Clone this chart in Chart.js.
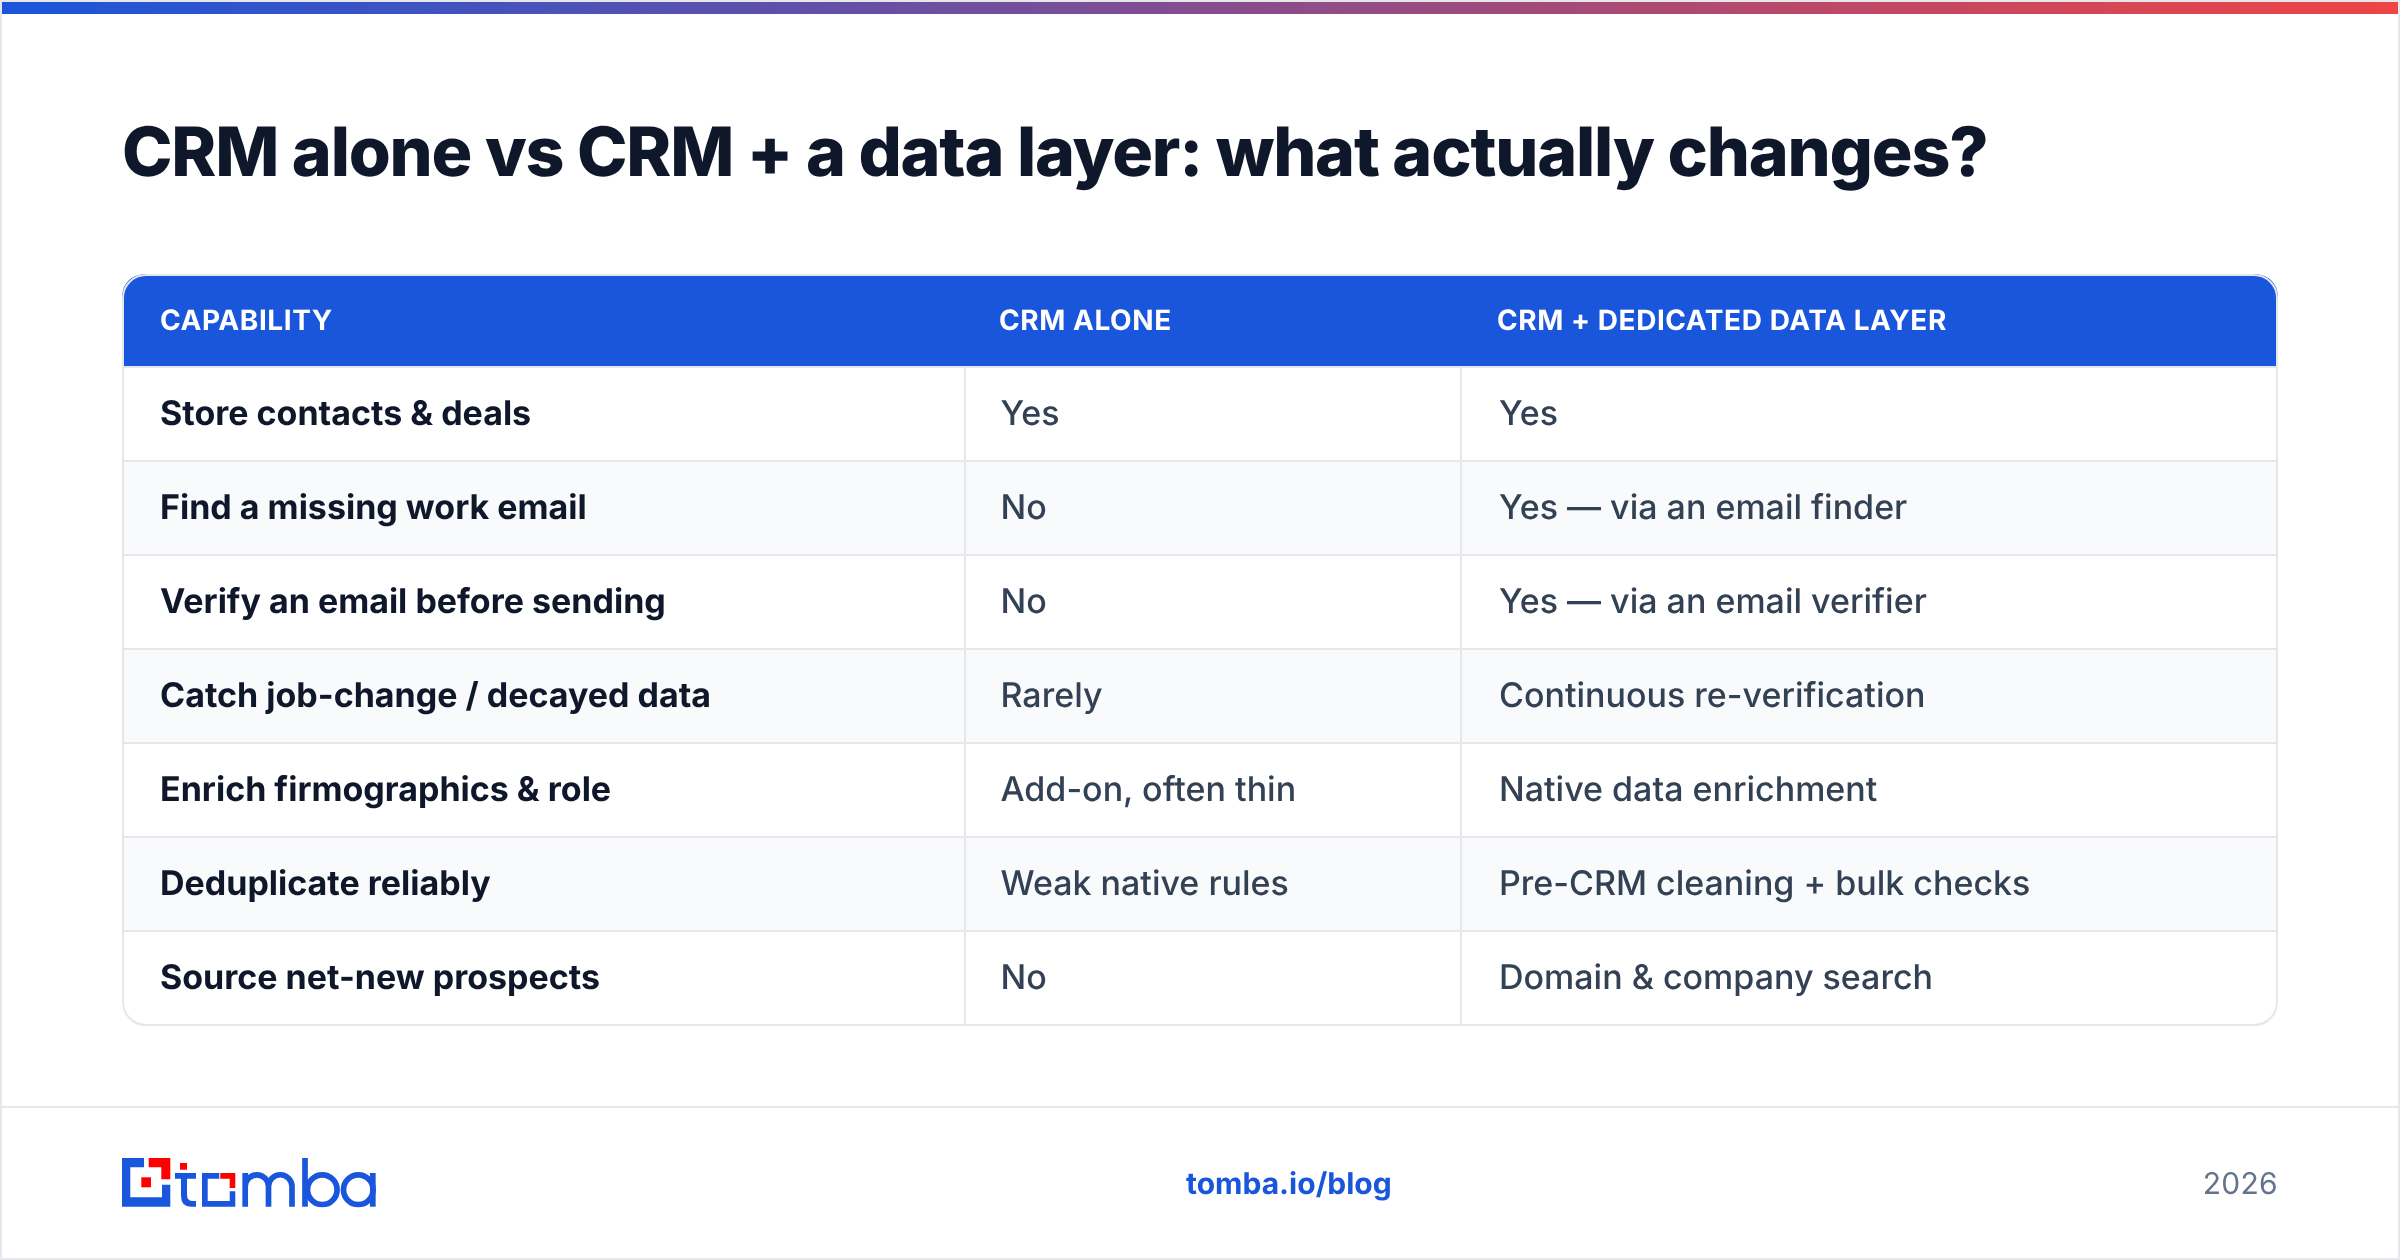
<!DOCTYPE html>
<html>
<head>
<meta charset="utf-8">
<title>CRM alone vs CRM + a data layer</title>
<script src="https://cdn.jsdelivr.net/npm/chart.js@4"></script>
<style>
    html, body { margin: 0; padding: 0; background: #fff; }
    body { width: 2400px; height: 1260px; overflow: hidden; position: relative; font-family: Inter, sans-serif; text-rendering: geometricPrecision; }
    .frame { position: absolute; inset: 0; border: 2px solid #e5e7eb; box-sizing: border-box; }
    .accent { position: absolute; left: 2px; right: 2px; top: 2px; height: 12px; background: linear-gradient(90deg, #1a56db, #ef4444); }
    h1 { position: absolute; left: 122px; top: 111px; margin: 0; font-size: 68px; line-height: 82px; font-weight: 800; letter-spacing: -1.2px; color: #0f172a; white-space: nowrap; }
    canvas { position: absolute; left: 0; top: 0; }
    .footer-line { position: absolute; left: 2px; right: 2px; top: 1106px; height: 2px; background: #e5e7eb; }
    .logo { position: absolute; left: 122px; top: 1158px; }
    .link { position: absolute; left: 1186px; top: 1165px; font-size: 30px; line-height: 38px; font-weight: 700; color: #1a56db; white-space: nowrap; }
    .year { position: absolute; right: 122px; top: 1165px; font-size: 30px; line-height: 38px; letter-spacing: 0.3px; color: #64748b; white-space: nowrap; }
</style>
</head>
<body>
<div class="frame"></div>
<div class="accent"></div>
<h1>CRM alone vs CRM + a data layer: what actually changes?</h1>
<canvas id="tableChart" width="2400" height="1260"></canvas>
<div class="footer-line"></div>
<svg class="logo" width="256" height="50" viewBox="0 0 256 50" role="img" aria-label="tomba">
    <g fill="#1a56db">
        <path d="M0 0H22V9.300H8.300V39.300H40V26.700H48.300V48.700H0Z"/>
        <path d="M53 15H74V20.700H65V37Q65 43 71 43H74V48.700H69Q59 48.700 59 38V20.700H53Z"/>
        <path d="M80 15H97.300V20.700H85.700V43H107.700V33.300H113.300V48.700H80Z"/>
    </g>
    <g fill="#ff0000">
        <path d="M26.700 0H48.300V21.300H39.300V9.300H26.700Z"/>
        <rect x="19.300" y="19.300" width="9.700" height="10"/>
        <rect x="58" y="5" width="7" height="6.700"/>
        <path d="M98.300 15H113.300V30H107.700V20.700H98.300Z"/>
    </g>
    <g fill="none" stroke="#1a56db" stroke-width="5.700">
        <path d="M123.200 48.700V15M123.200 28.500A11.650 11.650 0 0 1 146.500 28.500V48.700M146.500 28.500A11.750 11.750 0 0 1 170 28.500V48.700"/>
        <path d="M183 0V48.700"/>
        <circle cx="200.300" cy="31.700" r="14.800"/>
        <circle cx="236.300" cy="31.700" r="14.800"/>
        <path d="M250.800 15V48.700"/>
    </g>
</svg>
<div class="link">tomba.io/blog</div>
<div class="year">2026</div>

<script>
// Table content
const headers = ['CAPABILITY', 'CRM ALONE', 'CRM + DEDICATED DATA LAYER'];
const capabilities = [
    'Store contacts & deals',
    'Find a missing work email',
    'Verify an email before sending',
    'Catch job-change / decayed data',
    'Enrich firmographics & role',
    'Deduplicate reliably',
    'Source net-new prospects'
];
const crmAlone = ['Yes', 'No', 'No', 'Rarely', 'Add-on, often thin', 'Weak native rules', 'No'];
const crmWithLayer = [
    'Yes',
    'Yes \u2014 via an email finder',
    'Yes \u2014 via an email verifier',
    'Continuous re-verification',
    'Native data enrichment',
    'Pre-CRM cleaning + bulk checks',
    'Domain & company search'
];

// Layout of the table on the x scale (pixels from the table's left edge)
const columnEdges = [0, 844, 1340, 2156];
const textInset = [38, 34.5, 37];
const headerInset = [38, 33, 35];

const rowLabels = [headers[0]].concat(capabilities);
const columnTexts = [
    rowLabels,
    [headers[1]].concat(crmAlone),
    [headers[2]].concat(crmWithLayer)
];
const lastRow = rowLabels.length - 1;

function cellRadius(context) {
    const col = context.datasetIndex;
    const row = context.dataIndex;
    return {
        topLeft: row === 0 && col === 0 ? 22 : 0,
        topRight: row === 0 && col === 2 ? 22 : 0,
        bottomLeft: row === lastRow && col === 0 ? 22 : 0,
        bottomRight: row === lastRow && col === 2 ? 22 : 0
    };
}

function cellFill(context) {
    if (context.dataIndex === 0) return '#1a56db';
    return context.dataIndex % 2 === 0 ? '#f9fafb' : '#ffffff';
}

function cellBorder(context) {
    const right = context.dataIndex > 0 && context.datasetIndex < 2 ? 2 : 0;
    return { top: 0, left: 0, bottom: 2, right: right };
}

const columnDatasets = headers.map(function(header, col) {
    return {
        label: header,
        data: rowLabels.map(() => [columnEdges[col], columnEdges[col + 1]]),
        backgroundColor: cellFill,
        borderColor: '#e5e7eb',
        borderWidth: cellBorder,
        borderRadius: cellRadius,
        borderSkipped: false,
        inflateAmount: 0
    };
});

// Outer rounded border of the table
const tableBorder = {
    id: 'tableBorder',
    afterDatasetsDraw(chart) {
        const { ctx, chartArea } = chart;
        ctx.save();
        ctx.strokeStyle = '#e5e7eb';
        ctx.lineWidth = 2;
        ctx.beginPath();
        ctx.roundRect(chartArea.left + 1, chartArea.top + 1, chartArea.width - 2, chartArea.height - 2, 23);
        ctx.stroke();
        ctx.restore();
    }
};

// Cell text, anchored on each bar
const cellText = {
    id: 'cellText',
    afterDatasetsDraw(chart) {
        const { ctx, scales } = chart;
        ctx.save();
        ctx.textBaseline = 'alphabetic';
        ctx.textAlign = 'left';
        ctx.fontKerning = 'normal';
        ctx.textRendering = 'geometricPrecision';
        columnTexts.forEach(function(texts, col) {
            texts.forEach(function(text, row) {
                const x = scales.x.getPixelForValue(columnEdges[col]);
                const y = scales.y.getPixelForValue(row);
                if (row === 0) {
                    ctx.font = '700 28px Inter';
                    ctx.letterSpacing = '0.56px';
                    ctx.fillStyle = '#ffffff';
                    ctx.fillText(text, x + headerInset[col], y + 9);
                } else {
                    ctx.font = (col === 0 ? '700' : '500') + ' 34px Inter';
                    ctx.letterSpacing = '0px';
                    ctx.fillStyle = col === 0 ? '#0f172a' : '#334155';
                    ctx.fillText(text, x + textInset[col], y + 10);
                }
            });
        });
        ctx.restore();
    }
};

const chart = new Chart(document.getElementById('tableChart'), {
    type: 'bar',
    data: {
        labels: rowLabels,
        datasets: columnDatasets
    },
    options: {
        indexAxis: 'y',
        responsive: false,
        animation: false,
        devicePixelRatio: 1,
        layout: { padding: { left: 122, right: 122, top: 274, bottom: 234 } },
        datasets: { bar: { grouped: false, barPercentage: 1, categoryPercentage: 1 } },
        scales: {
            x: { display: false, min: columnEdges[0], max: columnEdges[3] },
            y: { display: false }
        },
        plugins: {
            legend: { display: false },
            tooltip: { enabled: false }
        }
    },
    plugins: [tableBorder, cellText]
});
</script>
</body>
</html>
